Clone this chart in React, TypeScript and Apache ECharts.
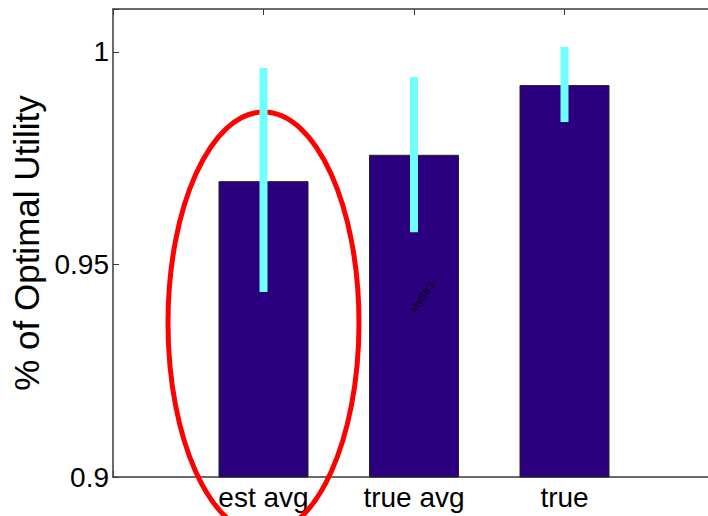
import React, { useEffect, useRef } from 'react';
import * as echarts from 'echarts';

const categories = ['est avg', 'true avg', 'true'];
const categoryPositions = [1, 2, 3];
const meanValues = [0.9696, 0.9758, 0.9922];
const errorLow = [0.9435, 0.9576, 0.9835];
const errorHigh = [0.9962, 0.9941, 1.0012];
const yTickValues = [0.9, 0.95, 1];
const yTickLabels = ['0.9', '0.95', '1'];
const yAxisTitle = '% of Optimal Utility';
const annotationText = 'MyStr3';

const FONT = '"Liberation Sans", Arial, Helvetica, sans-serif';

export default function App() {
  const ref = useRef<HTMLDivElement>(null);

  useEffect(() => {
    document.body.style.margin = '0';
    if (!ref.current) return;
    const chart = echarts.init(ref.current, undefined, { renderer: 'svg' });

    const xLabel = (v: number) => {
      const i = categoryPositions.findIndex((p) => Math.abs(p - v) < 1e-6);
      return i >= 0 ? categories[i] : '';
    };
    const yLabel = (v: number) => {
      const i = yTickValues.findIndex((p) => Math.abs(p - v) < 1e-6);
      return i >= 0 ? yTickLabels[i] : '';
    };

    const axisLine = { show: true, lineStyle: { color: '#3a3a3a', width: 1.5 } };

    chart.setOption({
      animation: false,
      backgroundColor: '#ffffff',
      grid: { left: 113, top: 9, width: 602, height: 468, containLabel: false },
      xAxis: [
        {
          type: 'value',
          min: 0,
          max: 4,
          interval: 1,
          position: 'bottom',
          axisLine,
          axisTick: { show: true, inside: true, length: 6, lineStyle: { color: '#3a3a3a' } },
          splitLine: { show: false },
          axisLabel: {
            formatter: xLabel,
            fontSize: 28,
            fontFamily: FONT,
            color: '#000',
            margin: 6,
          },
        },
        {
          type: 'value',
          min: 0,
          max: 4,
          interval: 1,
          position: 'top',
          axisLine,
          axisTick: { show: true, inside: true, length: 6, lineStyle: { color: '#3a3a3a' } },
          splitLine: { show: false },
          axisLabel: { show: false },
        },
      ],
      yAxis: [
        {
          type: 'value',
          min: 0.9,
          max: 1.0101,
          interval: 0.05,
          axisLine,
          axisTick: { show: true, inside: true, length: 6, lineStyle: { color: '#3a3a3a' } },
          splitLine: { show: false },
          axisLabel: {
            formatter: yLabel,
            fontSize: 28,
            fontFamily: FONT,
            color: '#000',
            margin: 4,
          },
          name: yAxisTitle,
          nameLocation: 'middle',
          nameGap: 68,
          nameTextStyle: { fontSize: 35, fontFamily: FONT, color: '#000' },
        },
      ],
      series: [
        {
          type: 'bar',
          xAxisIndex: 0,
          yAxisIndex: 0,
          barWidth: 90,
          clip: true,
          z: 2,
          data: categoryPositions.map((x, i) => [x, meanValues[i]]),
          itemStyle: { color: '#2a007f', borderColor: '#222222', borderWidth: 1 },
        },
        {
          type: 'custom',
          xAxisIndex: 0,
          yAxisIndex: 0,
          z: 6,
          data: categoryPositions.map((x, i) => [x, errorLow[i], errorHigh[i]]),
          renderItem: (params: any, api: any) => {
            const x = api.value(0);
            const top = api.coord([x, api.value(2)]);
            const bottom = api.coord([x, api.value(1)]);
            return {
              type: 'rect',
              shape: { x: top[0] - 4, y: top[1], width: 8, height: bottom[1] - top[1] },
              style: { fill: '#6fffff' },
            };
          },
        },
      ],
      graphic: [
        {
          type: 'ellipse',
          z: 4,
          shape: { cx: 263.5, cy: 323, rx: 95.5, ry: 211 },
          style: { fill: 'none', stroke: '#ff0000', lineWidth: 5 },
        },
        {
          type: 'text',
          z: 10,
          x: 422,
          y: 297,
          rotation: (56 * Math.PI) / 180,
          style: {
            text: annotationText,
            fontSize: 11,
            fontFamily: FONT,
            fill: '#000',
            align: 'center',
            verticalAlign: 'middle',
          },
        },
      ],
    });

    return () => chart.dispose();
  }, []);

  return (
    <div style={{ width: 708, height: 516, overflow: 'hidden', position: 'relative' }}>
      <div ref={ref} style={{ width: 730, height: 516 }} />
    </div>
  );
}
